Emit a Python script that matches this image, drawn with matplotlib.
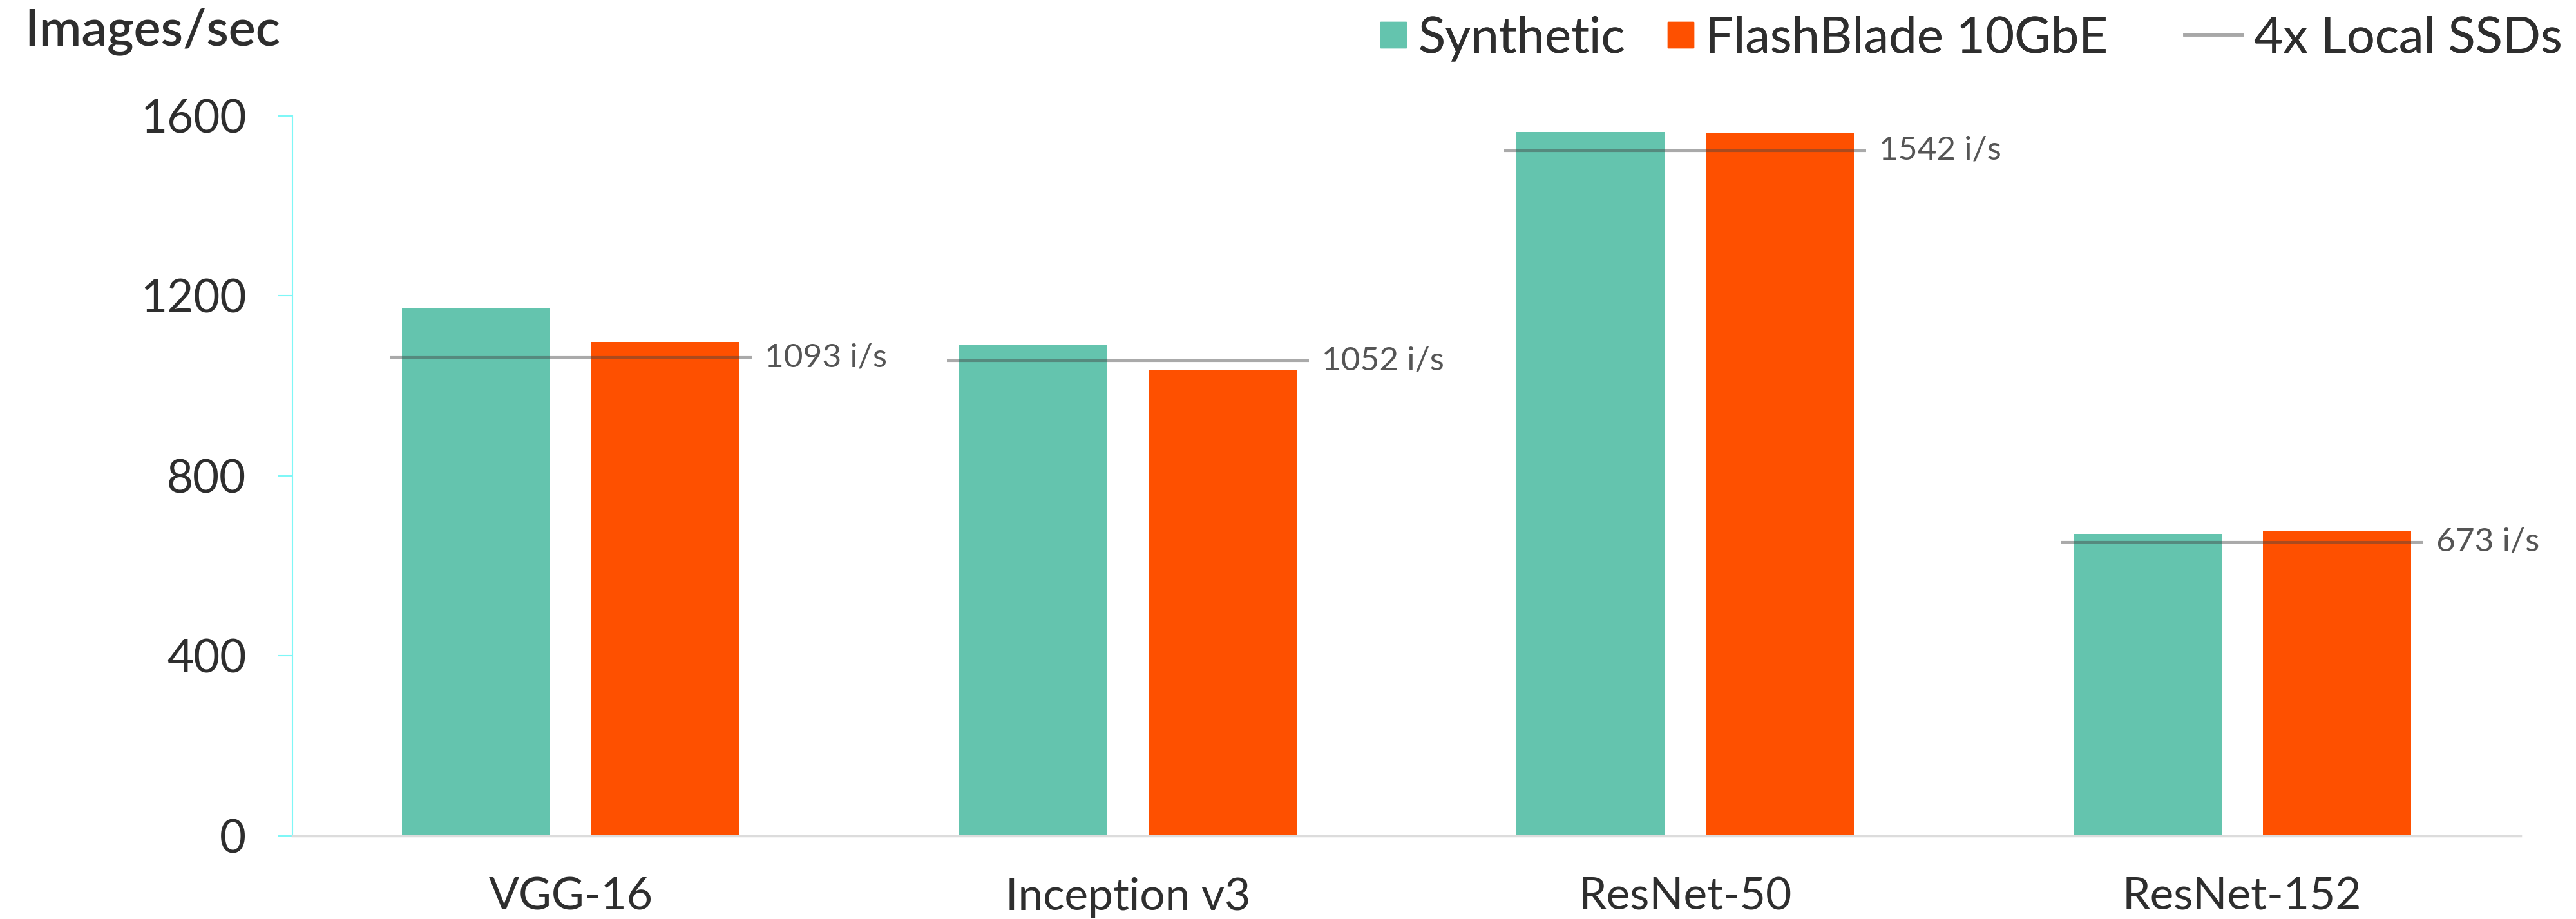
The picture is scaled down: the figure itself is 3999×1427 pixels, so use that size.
#!/usr/bin/env python3
"""
Training throughput per model: synthetic data vs FlashBlade, with 4x local SSD reference lines
"""

import numpy as np
import matplotlib.pyplot as plt
from matplotlib.lines import Line2D

plt.rcParams['font.family'] = ['Lato', 'DejaVu Sans']

# data
models = ['VGG-16', 'Inception v3', 'ResNet-50', 'ResNet-152']
synthetic = [1174, 1091, 1564, 671]
flashblade = [1097, 1034, 1563, 677]
local_ssd = [1063, 1056, 1523, 653]
local_ssd_labels = ['1093 i/s', '1052 i/s', '1542 i/s', '673 i/s']
y_ticks = [0, 400, 800, 1200, 1600]
legend_labels = ['Synthetic', 'FlashBlade 10GbE', '4x Local SSDs']

TEAL = '#64C4AE'
ORANGE = '#FE5000'
TEXT = '#2e2e2e'


def main():
	fig = plt.figure(figsize=(39.99, 14.27), dpi=100)
	ax = fig.add_axes([0.1135, 0.0904, 0.865, 0.7835])

	x = np.arange(len(models))
	width = 0.266
	offset = 0.17

	ax.bar(x - offset, synthetic, width, color=TEAL, zorder=2)
	ax.bar(x + offset, flashblade, width, color=ORANGE, zorder=2)

	# reference lines for local SSDs
	for i, (val, lab) in enumerate(zip(local_ssd, local_ssd_labels)):
		ax.hlines(val, i - 0.325, i + 0.325, color='#444444', alpha=0.45, linewidth=3, zorder=3)
		ax.text(i + 0.348, val, lab, fontsize=37, color='#555555', va='center', ha='left')

	ax.set_xlim(-0.5, len(models) - 0.5)
	ax.set_ylim(0, 1600)
	ax.set_yticks(y_ticks)
	ax.set_yticklabels([str(t) for t in y_ticks])
	ax.set_xticks(x)
	ax.set_xticklabels(models)

	ax.tick_params(axis='y', colors='#7ff7f7', length=16.5, width=1.5, pad=35, labelsize=51, labelcolor=TEXT)
	ax.tick_params(axis='x', length=0, pad=46, labelsize=50, labelcolor=TEXT)

	for side in ['top', 'right']:
		ax.spines[side].set_visible(False)
	ax.spines['left'].set_color('#7ff7f7')
	ax.spines['left'].set_linewidth(1.5)
	ax.spines['bottom'].set_color('#dcdcdc')
	ax.spines['bottom'].set_linewidth(2.5)

	fig.text(38 / 3999, 1 - 70 / 1427, 'Images/sec', fontsize=57, fontweight='semibold',
		color=TEXT, ha='left', va='baseline')

	# legend items placed one by one, like the original layout
	handles = [
		Line2D([], [], marker='s', linestyle='none', markersize=29, color=TEAL),
		Line2D([], [], marker='s', linestyle='none', markersize=29, color=ORANGE),
		Line2D([], [], color='#a8a8a8', linewidth=4),
	]
	legend_x = [2142 / 3999, 2588 / 3999, 3392 / 3999]
	handle_len = [0.54, 0.54, 1.15]
	for h, lab, lx, hl in zip(handles, legend_labels, legend_x, handle_len):
		leg = fig.legend([h], [lab], loc='center left', bbox_to_anchor=(lx, 1 - 60 / 1427),
			frameon=False, fontsize=56, handlelength=hl, handletextpad=0.22,
			borderpad=0, borderaxespad=0, labelcolor=TEXT)
		fig.add_artist(leg)

	plt.savefig('out.png', dpi=100)


if __name__ == "__main__":
	main()
